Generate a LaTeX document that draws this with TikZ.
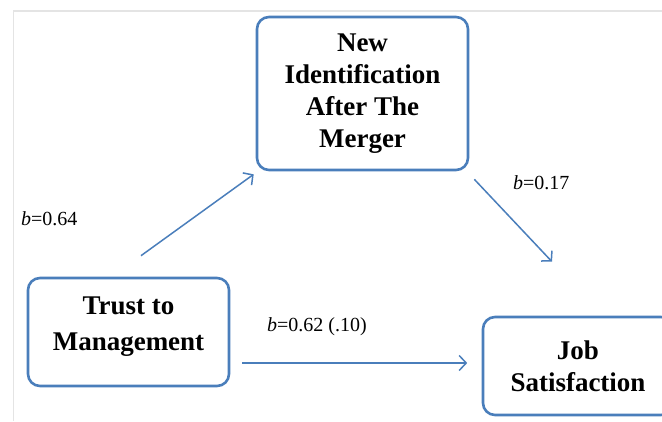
\documentclass[tikz,border=0pt]{standalone}
\usepackage{fontspec}
\setmainfont{Liberation Serif}
\usetikzlibrary{arrows.meta, calc}

\definecolor{boxblue}{RGB}{74,126,187}
\definecolor{framegray}{RGB}{228,228,228}

\tikzset{
    box/.style={draw=boxblue, line width=2.6pt, rounded corners=12pt, align=center,
        font=\fontsize{27}{32}\selectfont\bfseries},
    effect/.style={draw=boxblue, line width=1.5pt, -{Straight Barb[length=7pt, width=15pt]}},
    coef/.style={anchor=west, inner sep=0pt, font=\fontsize{20}{24}\selectfont}
}

\begin{document}
\begin{tikzpicture}[x=1pt, y=1pt]
    \useasboundingbox (0,0) rectangle (662,421);
    \clip (0,0) rectangle (662,421);

    % Frame
    \draw[framegray, line width=1.5pt] (13.5,0) -- (13.5,410) -- (662,410);

    % Variables
    \node[box, minimum width=211pt, minimum height=153pt] (ident) at (362.5,327.5) {New\\Identification\\After The\\Merger};
    \node[box, minimum width=201pt, minimum height=108pt] (trust) at (128.5,89) {};
    \node[align=center, font=\fontsize{27}{36}\selectfont\bfseries] (trusttext) at ([yshift=5pt]trust.center) {Trust to\\Management};
    \node[box, minimum width=190pt, minimum height=98pt] (job) at (578,55) {Job\\Satisfaction};

    % Paths
    \draw[effect] ([xshift=12.5pt, yshift=21pt]trust.north) -- ([xshift=-2pt, yshift=-3pt]ident.south west);
    \draw[effect] ([xshift=5pt, yshift=-8pt]ident.south east) -- ([xshift=-26pt, yshift=54pt]job.north);
    \draw[effect] ([xshift=12pt, yshift=-31pt]trust.east) -- ([xshift=-14.5pt, yshift=3pt]job.west);

    % Coefficients
    \node[coef] (bone) at (21,202) {\textit{b}=0.64};
    \node[coef] (btwo) at (513,238) {\textit{b}=0.17};
    \node[coef] (bthree) at (267,94) {\textit{b}=0.62 (.10)};
\end{tikzpicture}
\end{document}
